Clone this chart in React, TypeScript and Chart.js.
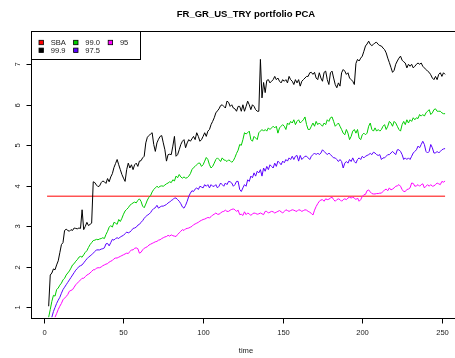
import React, { useEffect, useRef } from "react";
import { Chart, registerables } from "chart.js";

Chart.register(...registerables);

const chartTitle = "FR_GR_US_TRY portfolio PCA";
const xAxisLabel = "time";
const xTickValues = [0, 50, 100, 150, 200, 250];
const yTickValues = [1, 2, 3, 4, 5, 6, 7];

const seriesNames = ["SBA", "99.9", "99.0", "97.5", "95"];
const seriesColors = ["#ff0000", "#000000", "#00cd00", "#5a00ff", "#ff00ff"];

const sbaTimes = [2, 252];
const sbaValues = [3.745, 3.745];

const q999Start = 3;
const q999Values = [
  1.03, 1.80, 1.85, 1.95, 1.93, 2.05, 2.15, 2.35, 2.55, 2.60,
  2.90, 2.93, 2.90, 2.88, 2.92, 2.90, 2.96, 2.95, 2.94, 2.96,
  2.95, 3.41, 2.92, 3.00, 3.10, 3.02, 3.05, 3.08, 4.10, 4.08,
  4.02, 3.98, 4.00, 4.08, 4.12, 4.10, 4.06, 4.18, 4.10, 4.22,
  4.30, 4.45, 4.55, 4.65, 4.52, 4.40, 4.28, 4.19, 4.11, 4.40,
  4.56, 4.44, 4.52, 4.40, 4.52, 4.56, 4.48, 4.61, 4.62, 4.69,
  4.73, 5.06, 5.20, 5.24, 5.28, 5.31, 5.02, 4.85, 5.06, 5.15,
  5.22, 5.24, 5.06, 4.89, 4.61, 4.77, 4.78, 4.77, 4.98, 5.22,
  4.73, 4.77, 4.89, 5.02, 5.10, 5.14, 4.94, 5.06, 5.14, 5.10,
  5.16, 5.22, 5.14, 5.31, 5.22, 5.10, 5.14, 5.22, 5.31, 5.22,
  5.35, 5.39, 5.51, 5.59, 5.68, 5.80, 5.85, 5.90, 5.98, 6.00,
  5.96, 5.92, 6.09, 6.06, 5.96, 6.00, 5.92, 5.90, 5.84, 5.96,
  5.96, 5.84, 6.00, 5.84, 5.96, 6.09, 6.00, 5.88, 6.00, 5.96,
  5.88, 5.84, 5.84, 7.12, 6.17, 6.55, 6.30, 6.60, 6.62, 6.54,
  6.58, 6.62, 6.70, 6.62, 6.66, 6.58, 6.54, 6.62, 6.58, 6.62,
  6.54, 6.70, 6.62, 6.58, 6.50, 6.62, 6.54, 6.62, 6.46, 6.58,
  6.62, 6.66, 6.70, 6.70, 6.79, 6.80, 6.75, 6.80, 6.66, 6.62,
  6.79, 6.66, 6.58, 6.80, 6.83, 6.62, 6.50, 6.79, 6.83, 6.66,
  6.50, 6.42, 6.54, 6.46, 6.79, 6.87, 6.83, 6.75, 6.79, 6.66,
  6.62, 6.58, 6.50, 7.02, 7.12, 7.08, 7.15, 7.20, 7.32, 7.45,
  7.50, 7.57, 7.49, 7.46, 7.49, 7.53, 7.54, 7.49, 7.46, 7.45,
  7.40, 7.36, 7.28, 7.15, 7.04, 6.92, 6.80, 6.85, 7.00, 7.08,
  7.15, 7.20, 7.10, 7.06, 7.03, 6.91, 7.00, 6.95, 7.00, 6.91,
  6.95, 7.00, 7.03, 7.00, 7.03, 6.95, 6.91, 6.87, 6.83, 6.80,
  6.74, 6.66, 6.62, 6.70, 6.62, 6.75, 6.79, 6.70, 6.79, 6.75,
];

const q990Start = 3;
const q990Values = [
  0.76, 0.95, 1.15, 1.30, 1.28, 1.44, 1.48, 1.55, 1.60, 1.68,
  1.72, 1.80, 1.85, 1.90, 1.97, 2.05, 2.08, 2.14, 2.18, 2.24,
  2.26, 2.24, 2.30, 2.36, 2.40, 2.48, 2.55, 2.60, 2.65, 2.66,
  2.68, 2.67, 2.69, 2.70, 2.72, 2.70, 2.80, 2.88, 2.98, 3.02,
  2.98, 3.10, 3.08, 3.05, 3.17, 3.12, 3.20, 3.30, 3.38, 3.42,
  3.46, 3.52, 3.55, 3.58, 3.60, 3.58, 3.64, 3.68, 3.62, 3.50,
  3.46, 3.55, 3.65, 3.72, 3.76, 3.85, 3.91, 3.95, 3.99, 3.96,
  3.99, 4.00, 3.99, 4.02, 4.05, 4.07, 4.10, 4.08, 4.15, 4.12,
  4.24, 4.20, 4.28, 4.22, 4.19, 4.22, 4.19, 4.20, 4.24, 4.30,
  4.40, 4.45, 4.48, 4.52, 4.56, 4.56, 4.48, 4.52, 4.61, 4.70,
  4.65, 4.52, 4.44, 4.48, 4.56, 4.65, 4.69, 4.65, 4.60, 4.69,
  4.64, 4.63, 4.60, 4.64, 4.62, 4.58, 4.62, 4.70, 4.80, 4.88,
  5.02, 5.00, 5.14, 5.31, 5.28, 5.31, 5.35, 5.14, 5.10, 5.22,
  5.18, 5.14, 5.31, 5.35, 5.39, 5.35, 5.39, 5.35, 5.43, 5.39,
  5.43, 5.47, 5.43, 5.47, 5.30, 5.43, 5.47, 5.51, 5.47, 5.39,
  5.55, 5.51, 5.59, 5.55, 5.63, 5.51, 5.59, 5.63, 5.55, 5.59,
  5.63, 5.70, 5.51, 5.39, 5.39, 5.47, 5.55, 5.47, 5.59, 5.51,
  5.55, 5.51, 5.47, 5.55, 5.51, 5.63, 5.59, 5.68, 5.70, 5.59,
  5.47, 5.51, 5.55, 5.47, 5.39, 5.30, 5.26, 5.39, 5.30, 5.14,
  5.22, 5.35, 5.39, 5.30, 5.39, 5.18, 5.14, 5.26, 5.30, 5.26,
  5.30, 5.47, 5.55, 5.39, 5.35, 5.43, 5.35, 5.39, 5.35, 5.39,
  5.47, 5.51, 5.39, 5.47, 5.59, 5.55, 5.47, 5.59, 5.55, 5.47,
  5.39, 5.35, 5.51, 5.59, 5.51, 5.63, 5.55, 5.63, 5.59, 5.68,
  5.63, 5.68, 5.66, 5.76, 5.72, 5.76, 5.72, 5.80, 5.84, 5.88,
  5.76, 5.80, 5.88, 5.90, 5.84, 5.84, 5.84, 5.80, 5.78, 5.78,
];

const q975Start = 5;
const q975Values = [
  0.76, 0.90, 1.00, 1.10, 1.18, 1.25, 1.35, 1.44, 1.50, 1.56,
  1.62, 1.68, 1.74, 1.80, 1.86, 1.92, 1.96, 2.01, 2.03, 2.05,
  2.10, 2.15, 2.20, 2.24, 2.27, 2.30, 2.34, 2.38, 2.42, 2.42,
  2.42, 2.44, 2.45, 2.47, 2.57, 2.58, 2.52, 2.60, 2.68, 2.66,
  2.70, 2.72, 2.70, 2.74, 2.76, 2.78, 2.82, 2.86, 2.84, 2.86,
  2.90, 2.95, 2.96, 2.98, 3.03, 3.05, 3.10, 3.14, 3.20, 3.24,
  3.28, 3.30, 3.34, 3.40, 3.44, 3.46, 3.52, 3.45, 3.48, 3.50,
  3.50, 3.52, 3.54, 3.58, 3.60, 3.64, 3.66, 3.70, 3.70, 3.66,
  3.62, 3.56, 3.48, 3.45, 3.52, 3.62, 3.74, 3.82, 3.88, 3.86,
  3.92, 3.95, 3.91, 3.99, 3.97, 3.95, 4.03, 3.99, 4.03, 3.95,
  4.03, 3.99, 3.99, 4.03, 3.95, 3.99, 4.07, 4.03, 3.99, 4.07,
  4.03, 4.11, 4.10, 4.07, 3.99, 4.03, 4.11, 4.11, 3.91, 3.86,
  3.95, 4.03, 3.99, 4.15, 4.11, 4.24, 4.20, 4.32, 4.24, 4.36,
  4.32, 4.40, 4.24, 4.44, 4.36, 4.48, 4.40, 4.52, 4.48, 4.44,
  4.56, 4.48, 4.61, 4.57, 4.52, 4.61, 4.57, 4.65, 4.61, 4.69,
  4.65, 4.73, 4.65, 4.73, 4.75, 4.61, 4.75, 4.65, 4.69, 4.73,
  4.73, 4.69, 4.65, 4.73, 4.77, 4.81, 4.77, 4.81, 4.77, 4.81,
  4.89, 4.85, 4.81, 4.77, 4.81, 4.77, 4.73, 4.69, 4.69, 4.65,
  4.60, 4.65, 4.60, 4.44, 4.56, 4.60, 4.56, 4.65, 4.60, 4.69,
  4.60, 4.56, 4.65, 4.69, 4.65, 4.73, 4.69, 4.73, 4.75, 4.77,
  4.80, 4.77, 4.83, 4.81, 4.77, 4.75, 4.77, 4.65, 4.69, 4.69,
  4.73, 4.77, 4.77, 4.81, 4.85, 4.81, 4.77, 4.89, 4.89, 4.85,
  4.77, 4.65, 4.69, 4.65, 4.69, 4.65, 4.73, 4.81, 4.85, 4.89,
  4.98, 4.94, 5.02, 5.10, 5.02, 4.85, 4.81, 4.85, 5.02, 4.94,
  4.81, 4.81, 4.85, 4.81, 4.85, 4.89, 4.91, 4.92,
];

const q95Start = 7;
const q95Values = [
  0.76, 0.85, 0.95, 1.03, 1.10, 1.19, 1.23, 1.27, 1.32, 1.40,
  1.42, 1.44, 1.50, 1.56, 1.60, 1.64, 1.68, 1.72, 1.72, 1.76,
  1.80, 1.82, 1.85, 1.89, 1.93, 1.93, 1.97, 1.98, 1.98, 2.00,
  2.03, 2.05, 2.07, 2.08, 2.12, 2.14, 2.16, 2.20, 2.22, 2.22,
  2.24, 2.26, 2.28, 2.30, 2.32, 2.34, 2.33, 2.38, 2.42, 2.42,
  2.46, 2.47, 2.45, 2.34, 2.36, 2.42, 2.46, 2.48, 2.50, 2.54,
  2.56, 2.58, 2.60, 2.62, 2.63, 2.66, 2.67, 2.70, 2.72, 2.74,
  2.75, 2.78, 2.76, 2.79, 2.77, 2.76, 2.75, 2.80, 2.84, 2.88,
  2.92, 2.90, 2.94, 2.95, 2.96, 2.98, 3.00, 3.04, 3.06, 3.08,
  3.10, 3.13, 3.15, 3.17, 3.18, 3.20, 3.22, 3.21, 3.24, 3.28,
  3.30, 3.33, 3.30, 3.30, 3.33, 3.36, 3.37, 3.40, 3.37, 3.37,
  3.40, 3.42, 3.43, 3.41, 3.37, 3.40, 3.29, 3.30, 3.27, 3.36,
  3.29, 3.33, 3.31, 3.27, 3.31, 3.33, 3.32, 3.30, 3.31, 3.33,
  3.31, 3.29, 3.37, 3.37, 3.33, 3.35, 3.37, 3.36, 3.33, 3.35,
  3.37, 3.39, 3.36, 3.33, 3.37, 3.41, 3.39, 3.37, 3.39, 3.41,
  3.40, 3.38, 3.37, 3.41, 3.40, 3.37, 3.39, 3.41, 3.40, 3.37,
  3.35, 3.32, 3.28, 3.40, 3.49, 3.56, 3.62, 3.65, 3.66, 3.62,
  3.68, 3.66, 3.67, 3.70, 3.72, 3.66, 3.62, 3.66, 3.68, 3.66,
  3.62, 3.66, 3.68, 3.66, 3.70, 3.72, 3.70, 3.72, 3.70, 3.66,
  3.70, 3.62, 3.66, 3.74, 3.78, 3.79, 3.88, 3.90, 3.85, 3.81,
  3.80, 3.80, 3.81, 3.81, 3.82, 3.82, 3.86, 3.90, 3.92, 3.88,
  3.95, 3.90, 3.92, 3.95, 3.99, 4.00, 4.03, 3.99, 3.91, 3.86,
  3.86, 3.91, 3.92, 3.95, 4.07, 4.06, 3.99, 4.00, 4.03, 3.99,
  4.03, 4.05, 3.95, 3.99, 4.03, 3.99, 4.03, 3.99, 4.00, 4.03,
  4.07, 4.05, 4.03, 4.11, 4.09, 4.12,
];

const FONT = "'Liberation Sans', Arial, Helvetica, sans-serif";

function toPoints(start: number, values: number[]) {
  return values.map((v, i) => ({ x: start + i, y: v }));
}

const decorPlugin = {
  id: "rDecor",
  afterDraw(chart: any) {
    const { ctx, chartArea, scales } = chart;
    const xs = scales.x;
    const ys = scales.y;
    ctx.save();
    ctx.strokeStyle = "#000";
    ctx.lineWidth = 1;
    ctx.strokeRect(
      Math.round(chartArea.left) + 0.5,
      Math.round(chartArea.top) + 0.5,
      Math.round(chartArea.right - chartArea.left),
      Math.round(chartArea.bottom - chartArea.top)
    );
    ctx.fillStyle = "#1a1a1a";
    ctx.font = `7.6px ${FONT}`;
    ctx.textAlign = "center";
    ctx.textBaseline = "middle";
    const bottom = Math.round(chartArea.bottom) + 0.5;
    xTickValues.forEach((t) => {
      const px = Math.round(xs.getPixelForValue(t)) + 0.5;
      ctx.beginPath();
      ctx.moveTo(px, bottom);
      ctx.lineTo(px, bottom + 5);
      ctx.stroke();
      ctx.fillText(String(t), px, 332.5);
    });
    const left = Math.round(chartArea.left) + 0.5;
    yTickValues.forEach((v) => {
      const py = Math.round(ys.getPixelForValue(v)) + 0.5;
      ctx.beginPath();
      ctx.moveTo(left, py);
      ctx.lineTo(left - 5, py);
      ctx.stroke();
      ctx.save();
      ctx.translate(17.5, py);
      ctx.rotate(-Math.PI / 2);
      ctx.fillText(String(v), 0, 0);
      ctx.restore();
    });
    const cx = (chartArea.left + chartArea.right) / 2;
    ctx.fillText(xAxisLabel, cx, 350.5);
    ctx.font = `bold 9.5px ${FONT}`;
    ctx.fillStyle = "#000";
    ctx.fillText(chartTitle, cx, 14);
    const lx = Math.round(chartArea.left) + 0.5;
    const ly = Math.round(chartArea.top) + 0.5;
    ctx.fillStyle = "#fff";
    ctx.fillRect(lx, ly, 109, 28);
    ctx.strokeRect(lx, ly, 109, 28);
    ctx.font = `7.6px ${FONT}`;
    ctx.textAlign = "left";
    seriesNames.forEach((name, i) => {
      const col = Math.floor(i / 2);
      const row = i % 2;
      const sx = 39 + col * 34.6;
      const sy = 42.5 + row * 7.8;
      ctx.fillStyle = seriesColors[i];
      ctx.fillRect(sx, sy - 2.2, 4.4, 4.4);
      ctx.strokeStyle = "#000";
      ctx.lineWidth = 0.8;
      ctx.strokeRect(sx, sy - 2.2, 4.4, 4.4);
      ctx.fillStyle = "#1a1a1a";
      ctx.fillText(name, sx + 11.7, sy + 0.3);
    });
    ctx.restore();
  },
};

export default function App() {
  const canvasRef = useRef<HTMLCanvasElement | null>(null);

  useEffect(() => {
    const canvas = canvasRef.current;
    if (!canvas) return;
    const lineDs = (label: string, data: any[], color: string) => ({
      label,
      data,
      borderColor: color,
      backgroundColor: color,
      borderWidth: 1,
      pointRadius: 0,
      tension: 0,
      fill: false,
    });
    const chart = new Chart(canvas, {
      type: "line",
      data: {
        datasets: [
          lineDs(seriesNames[1], toPoints(q999Start, q999Values), seriesColors[1]),
          lineDs(seriesNames[2], toPoints(q990Start, q990Values), seriesColors[2]),
          lineDs(seriesNames[3], toPoints(q975Start, q975Values), seriesColors[3]),
          lineDs(seriesNames[4], toPoints(q95Start, q95Values), seriesColors[4]),
          lineDs(
            seriesNames[0],
            sbaTimes.map((t, i) => ({ x: t, y: sbaValues[i] })),
            seriesColors[0]
          ),
        ],
      },
      options: {
        responsive: false,
        animation: false,
        devicePixelRatio: 1,
        events: [],
        layout: { padding: { left: 0, right: 14, top: 31, bottom: 0 } },
        plugins: {
          legend: { display: false },
          title: { display: false },
          tooltip: { enabled: false },
        },
        scales: {
          x: {
            type: "linear",
            min: -8.1,
            max: 262,
            grid: { display: false },
            border: { display: false },
            ticks: { display: false },
            afterFit: (s: any) => {
              s.height = 40;
            },
          },
          y: {
            type: "linear",
            min: 0.74,
            max: 7.82,
            grid: { display: false },
            border: { display: false },
            ticks: { display: false },
            afterFit: (s: any) => {
              s.width = 31;
            },
          },
        },
      },
      plugins: [decorPlugin],
    });
    return () => chart.destroy();
  }, []);

  return (
    <div
      style={{
        position: "fixed",
        left: 0,
        top: 0,
        width: 455,
        height: 358,
        overflow: "hidden",
        background: "#fff",
      }}
    >
      <canvas ref={canvasRef} width={475} height={358} style={{ display: "block" }} />
    </div>
  );
}
